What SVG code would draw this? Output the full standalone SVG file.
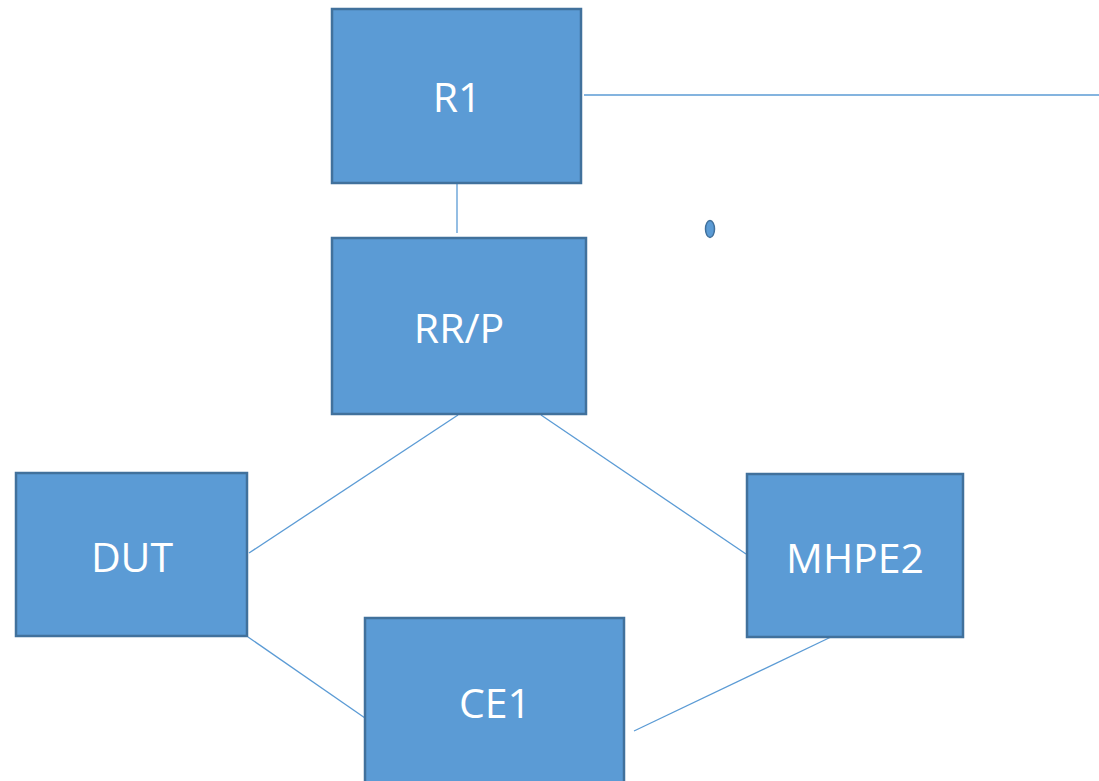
<svg xmlns="http://www.w3.org/2000/svg" width="1099" height="781" viewBox="0 0 1099 781">
<style>
.box{fill:#5B9BD5;stroke:#41719C;stroke-width:2.5}
.lbl{fill:#FFFFFF;font-family:"Open Sans","Liberation Sans",sans-serif;font-size:41px;text-anchor:middle}
.ln{stroke:#5B9BD5;stroke-width:1.3;fill:none}
</style>
<rect width="1099" height="781" fill="#FFFFFF"/>
<g id="connectors">
<line class="ln" x1="584" y1="95" x2="1099" y2="95"/>
<line class="ln" x1="457" y1="184" x2="457" y2="233"/>
<line class="ln" x1="458" y1="415" x2="249" y2="553"/>
<line class="ln" x1="541" y1="415" x2="746" y2="554"/>
<line class="ln" x1="248" y1="637" x2="365" y2="718"/>
<line class="ln" x1="831" y1="637" x2="634" y2="731"/>
</g>
<g id="R1"><rect class="box" x="332" y="9" width="249" height="174"/><text class="lbl" x="457" y="112">R1</text></g>
<g id="RRP"><rect class="box" x="332" y="238" width="254" height="176"/><text class="lbl" x="459" y="343">RR/P</text></g>
<g id="DUT"><rect class="box" x="16" y="473" width="231" height="163"/><text class="lbl" x="132" y="572">DUT</text></g>
<g id="MHPE2"><rect class="box" x="747" y="474" width="216" height="163"/><text class="lbl" x="855" y="573">MHPE2</text></g>
<g id="CE1"><rect class="box" x="365" y="618" width="259" height="180"/><text class="lbl" x="495" y="718">CE1</text></g>
<g id="dot"><ellipse cx="710" cy="229" rx="4.5" ry="8.5" fill="#5B9BD5" stroke="#41719C" stroke-width="1.5"/></g>
</svg>
